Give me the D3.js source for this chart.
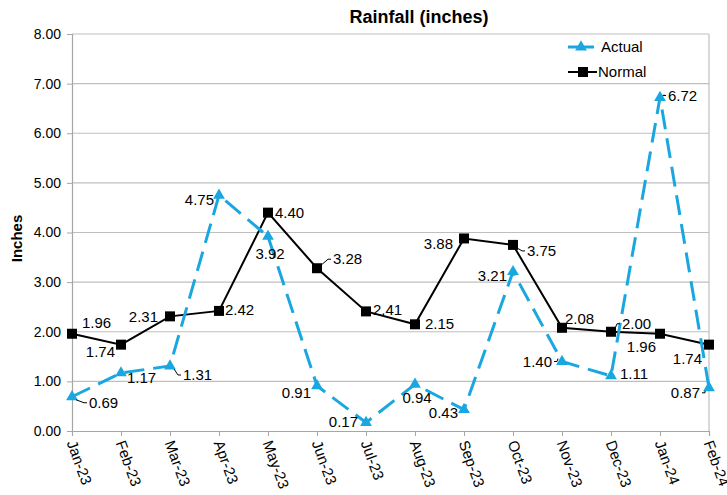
<!DOCTYPE html>
<html>
<head>
<meta charset="utf-8">
<script src="https://cdn.jsdelivr.net/npm/d3@7"></script>
<style>
  html, body { margin: 0; padding: 0; background: #ffffff; }
  svg { display: block; font-family: "Liberation Sans", Arial, sans-serif; }
</style>
</head>
<body>
<svg id="chart" width="727" height="495"></svg>
<script>
// Monthly rainfall, actual vs. normal (inches)
const months = ["Jan-23", "Feb-23", "Mar-23", "Apr-23", "May-23", "Jun-23", "Jul-23",
                "Aug-23", "Sep-23", "Oct-23", "Nov-23", "Dec-23", "Jan-24", "Feb-24"];
const actual = [0.69, 1.17, 1.31, 4.75, 3.92, 0.91, 0.17, 0.94, 0.43, 3.21, 1.40, 1.11, 6.72, 0.87];
const normal = [1.96, 1.74, 2.31, 2.42, 4.40, 3.28, 2.41, 2.15, 3.88, 3.75, 2.08, 2.00, 1.96, 1.74];
const yTicks = [0, 1, 2, 3, 4, 5, 6, 7, 8];

// Data-label placement: [anchor, dx, dy, leader line]
const normalLabelPlacement = [
  ["start", 10, -11, false], ["end", -6, 7, false], ["end", -12, 0, false], ["start", 6, -1, false],
  ["start", 7, 0, false], ["start", 16, -9, true], ["start", 7, -2, false], ["start", 10, -1, false],
  ["end", -11, 5, false], ["start", 14, 6, true], ["start", 3, -9, false], ["start", 11, -8, true],
  ["end", -4, 13, false], ["end", -7, 14, false]
];
const actualLabelPlacement = [
  ["start", 17, 6, true], ["start", 6, 5, false], ["start", 13, 9, true], ["end", -5, 4, false],
  ["middle", 2, 17, false], ["end", -6, 7, false], ["end", -8, -1, false], ["middle", 2, 13, false],
  ["end", -6, 3, false], ["end", -6, 4, false], ["end", -10, 0, true], ["start", 9, -2, false],
  ["start", 8, -2, true], ["end", -9, 5, true]
];

const blue = "#1AA7E0";
const grid = "#bfbfbf";
const svg = d3.select("#chart");
const margin = { left: 72, right: 18, top: 34, bottom: 64 };
const W = 727, H = 495;

const x = d3.scalePoint().domain(months).range([margin.left, W - margin.right]);
const y = d3.scaleLinear().domain([0, 8]).range([H - margin.bottom, margin.top]);

// Title
svg.append("text")
  .attr("x", 419).attr("y", 23)
  .attr("text-anchor", "middle")
  .attr("font-size", 18).attr("font-weight", "bold")
  .text("Rainfall (inches)");

// Horizontal gridlines
svg.append("g").selectAll("line").data(yTicks.slice(1)).join("line")
  .attr("x1", margin.left).attr("x2", W - margin.right)
  .attr("y1", d => y(d)).attr("y2", d => y(d))
  .attr("stroke", grid).attr("stroke-width", 1.2);

// Plot-area right border
svg.append("line")
  .attr("x1", W - margin.right).attr("x2", W - margin.right)
  .attr("y1", margin.top).attr("y2", y(0))
  .attr("stroke", grid).attr("stroke-width", 1.2);

// Y axis
const yAxis = svg.append("g")
  .attr("transform", `translate(${margin.left},0)`)
  .call(d3.axisLeft(y).tickValues(yTicks).tickFormat(d3.format(".2f")).tickSize(5).tickPadding(6));
yAxis.select(".domain").attr("stroke", "#a6a6a6").attr("stroke-width", 1.2);
yAxis.selectAll(".tick line").attr("stroke", "#a6a6a6");
yAxis.selectAll("text").attr("font-size", 14).attr("fill", "#000")
  .attr("font-family", "Liberation Sans, Arial, sans-serif");

// X axis
const xAxis = svg.append("g")
  .attr("transform", `translate(0,${y(0)})`)
  .call(d3.axisBottom(x).tickSize(5).tickPadding(0));
xAxis.select(".domain").attr("stroke", "#a6a6a6").attr("stroke-width", 1.2);
xAxis.selectAll(".tick line").attr("stroke", "#a6a6a6");
xAxis.selectAll("text")
  .attr("font-size", 15).attr("fill", "#000")
  .attr("font-family", "Liberation Sans, Arial, sans-serif")
  .attr("text-anchor", "start")
  .attr("y", 0).attr("dy", "0.35em")
  .attr("transform", "translate(-1,10) rotate(70)");

// Y axis title
svg.append("text")
  .attr("transform", `translate(22,${(margin.top + y(0)) / 2 + 6}) rotate(-90)`)
  .attr("text-anchor", "middle")
  .attr("font-size", 15).attr("font-weight", "bold")
  .text("Inches");

// Normal series
const line = d3.line().x((d, i) => x(months[i])).y(d => y(d));
svg.append("path").datum(normal)
  .attr("d", line).attr("fill", "none")
  .attr("stroke", "#000").attr("stroke-width", 2);
svg.append("g").selectAll("rect").data(normal).join("rect")
  .attr("x", (d, i) => x(months[i]) - 5).attr("y", d => y(d) - 5)
  .attr("width", 10).attr("height", 10).attr("fill", "#000");

// Actual series
svg.append("path").datum(actual)
  .attr("d", line).attr("fill", "none")
  .attr("stroke", blue).attr("stroke-width", 3)
  .attr("stroke-dasharray", "20,9");
const tri = d3.symbol().type(d3.symbolTriangle).size(60);
svg.append("g").selectAll("path").data(actual).join("path")
  .attr("d", tri)
  .attr("transform", (d, i) => `translate(${x(months[i])},${y(d)})`)
  .attr("fill", blue);

// Data labels
function drawLabels(values, placement) {
  const g = svg.append("g");
  values.forEach((v, i) => {
    const [anchor, dx, dy, leader] = placement[i];
    const px = x(months[i]), py = y(v);
    g.append("text")
      .attr("x", px + dx).attr("y", py + dy)
      .attr("dy", "0.35em")
      .attr("text-anchor", anchor)
      .attr("font-size", 15).attr("fill", "#000")
      .text(d3.format(".2f")(v));
    if (leader) {
      const side = anchor === "end" ? -1 : 1;
      const ex = px + dx - side * 2;
      const ey = py + dy;
      g.append("path")
        .attr("d", `M${px + side * 4},${py + (dy > 0 ? 3 : -3)} L${ex - side * 3},${ey} L${ex},${ey}`)
        .attr("fill", "none").attr("stroke", "#000").attr("stroke-width", 1);
    }
  });
}
drawLabels(normal, normalLabelPlacement);
drawLabels(actual, actualLabelPlacement);

// Legend
const legend = svg.append("g");
legend.append("line").attr("x1", 568).attr("x2", 594).attr("y1", 47).attr("y2", 47)
  .attr("stroke", blue).attr("stroke-width", 3);
legend.append("path").attr("d", tri).attr("transform", "translate(581,47)").attr("fill", blue);
legend.append("text").attr("x", 601).attr("y", 47).attr("dy", "0.35em")
  .attr("font-size", 15).text("Actual");
legend.append("line").attr("x1", 568).attr("x2", 597).attr("y1", 72).attr("y2", 72)
  .attr("stroke", "#000").attr("stroke-width", 2);
legend.append("rect").attr("x", 578).attr("y", 67).attr("width", 10).attr("height", 10).attr("fill", "#000");
legend.append("text").attr("x", 598).attr("y", 72).attr("dy", "0.35em")
  .attr("font-size", 15).text("Normal");
</script>
</body>
</html>
